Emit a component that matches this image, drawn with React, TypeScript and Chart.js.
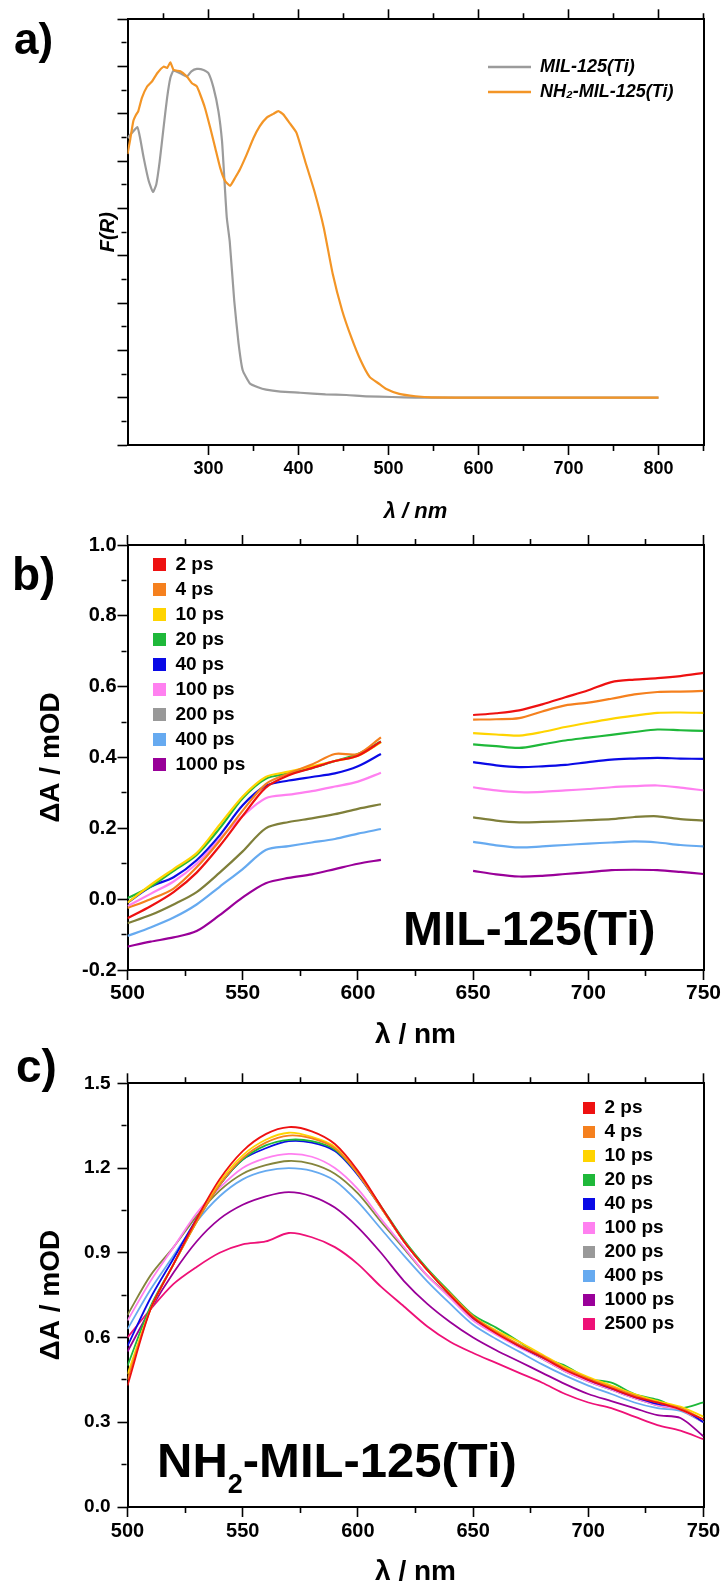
import React, { useEffect, useRef } from 'react';
import { Chart, registerables } from 'chart.js';

Chart.register(...registerables);

const FONT = '"Liberation Sans", Arial, Helvetica, sans-serif';
Chart.defaults.font.family = FONT;

// ---------------- Panel a : F(R) spectra ----------------
const aSeriesNames = ['MIL-125(Ti)', 'NH\u2082-MIL-125(Ti)'];
const aXTickLabels = [300, 400, 500, 600, 700, 800];
const aGrayX = [210, 215, 221, 224, 228, 233.6, 238.4, 242, 245.8, 250, 254, 257.6, 261, 268.5, 276, 281, 287, 294.5, 300, 305.6, 311, 315, 317.3, 320.3, 323.6, 328.6, 333.4, 338, 346, 355, 364, 380, 402, 430, 453, 475, 504, 530, 560, 600, 700, 800];
const aGrayY = [5.49, 5.6, 5.72, 5.49, 5.07, 4.58, 4.35, 4.51, 5.0, 5.7, 6.34, 6.76, 6.91, 6.86, 6.79, 6.9, 6.95, 6.93, 6.86, 6.55, 6.06, 5.43, 4.73, 3.81, 3.3, 2.05, 1.15, 0.58, 0.3, 0.22, 0.17, 0.13, 0.105, 0.07, 0.057, 0.03, 0.015, 0.0, 0.0, 0.0, 0.0, 0.0];
const aOrangeX = [210, 213, 216.5, 219.5, 222, 226, 231.8, 237.4, 243, 250.2, 254, 257.6, 261.3, 268.7, 276, 281.6, 287, 290.8, 296, 302, 307.5, 313, 318.5, 324, 329.6, 335, 342.6, 350, 357, 364.7, 372, 377.6, 383, 390, 397.8, 407.4, 417.6, 428, 438, 448.4, 458.6, 469, 479, 489, 497, 512, 530, 548, 600, 700, 800];
const aOrangeY = [5.15, 5.46, 5.85, 5.98, 6.06, 6.34, 6.58, 6.69, 6.86, 7.0, 6.97, 7.09, 6.93, 6.9, 6.79, 6.65, 6.58, 6.41, 6.13, 5.7, 5.28, 4.86, 4.58, 4.48, 4.65, 4.83, 5.15, 5.49, 5.74, 5.92, 6.0, 6.06, 5.99, 5.81, 5.6, 5.0, 4.37, 3.6, 2.62, 1.85, 1.28, 0.79, 0.44, 0.3, 0.19, 0.08, 0.03, 0.005, 0.0, 0.0, 0.0];

// ---------------- Panel b : MIL-125(Ti) transient spectra ----------------
const bLabels = ['2 ps', '4 ps', '10 ps', '20 ps', '40 ps', '100 ps', '200 ps', '400 ps', '1000 ps'];
const bXTickLabels = [500, 550, 600, 650, 700, 750];
const bYTickLabels = [-0.2, 0.0, 0.2, 0.4, 0.6, 0.8, 1.0];
const bX = [500, 510, 520, 530, 540, 550, 560, 570, 580, 590, 600, 610, 630, 650, 660, 670, 680, 690, 700, 710, 720, 730, 740, 750];
const b2ps = [-0.054, -0.02, 0.02, 0.075, 0.15, 0.235, 0.315, 0.35, 0.37, 0.39, 0.405, 0.445, null, 0.52, 0.525, 0.533, 0.55, 0.57, 0.59, 0.613, 0.62, 0.624, 0.63, 0.639];
const b4ps = [-0.025, 0.0, 0.03, 0.09, 0.165, 0.25, 0.325, 0.355, 0.38, 0.41, 0.41, 0.457, null, 0.507, 0.508, 0.511, 0.53, 0.547, 0.555, 0.566, 0.578, 0.585, 0.586, 0.588];
const b10ps = [-0.01, 0.04, 0.085, 0.13, 0.21, 0.29, 0.345, 0.36, 0.375, 0.39, 0.405, 0.443, null, 0.469, 0.465, 0.462, 0.472, 0.486, 0.498, 0.509, 0.518, 0.526, 0.527, 0.526];
const b20ps = [0.003, 0.035, 0.08, 0.125, 0.2, 0.285, 0.34, 0.355, 0.37, 0.39, 0.41, 0.445, null, 0.437, 0.432, 0.427, 0.437, 0.448, 0.456, 0.464, 0.472, 0.479, 0.477, 0.475];
const b40ps = [-0.01, 0.035, 0.062, 0.11, 0.18, 0.265, 0.32, 0.335, 0.345, 0.355, 0.375, 0.41, null, 0.387, 0.378, 0.373, 0.375, 0.379, 0.387, 0.394, 0.397, 0.399, 0.397, 0.396];
const b100ps = [-0.02, 0.015, 0.05, 0.1, 0.17, 0.235, 0.285, 0.295, 0.305, 0.318, 0.332, 0.357, null, 0.316, 0.307, 0.302, 0.303, 0.307, 0.311, 0.316, 0.319, 0.321, 0.315, 0.307];
const b200ps = [-0.068, -0.045, -0.015, 0.02, 0.075, 0.135, 0.2, 0.218, 0.228, 0.24, 0.255, 0.268, null, 0.231, 0.222, 0.217, 0.218, 0.22, 0.223, 0.226, 0.232, 0.234, 0.226, 0.222];
const b400ps = [-0.104, -0.08, -0.052, -0.015, 0.035, 0.085, 0.139, 0.15, 0.16, 0.17, 0.185, 0.198, null, 0.162, 0.152, 0.146, 0.149, 0.153, 0.157, 0.16, 0.163, 0.16, 0.153, 0.149];
const b1000ps = [-0.134, -0.12, -0.108, -0.09, -0.045, 0.005, 0.045, 0.06, 0.07, 0.085, 0.1, 0.111, null, 0.08, 0.07, 0.064, 0.066, 0.071, 0.076, 0.082, 0.083, 0.082, 0.077, 0.071];
const bSeries = [b2ps, b4ps, b10ps, b20ps, b40ps, b100ps, b200ps, b400ps, b1000ps];
const bLineColors = ['#ee1111', '#f5801e', '#ffd400', '#1fb83a', '#0a0ae6', '#ff80f0', '#7f7f3a', '#66aaf0', '#990099'];
const bLegendColors = ['#ee1111', '#f5801e', '#ffd400', '#1fb83a', '#0a0ae6', '#ff80f0', '#999999', '#66aaf0', '#990099'];

// ---------------- Panel c : NH2-MIL-125(Ti) transient spectra ----------------
const cLabels = ['2 ps', '4 ps', '10 ps', '20 ps', '40 ps', '100 ps', '200 ps', '400 ps', '1000 ps', '2500 ps'];
const cXTickLabels = [500, 550, 600, 650, 700, 750];
const cYTickLabels = [0.0, 0.3, 0.6, 0.9, 1.2, 1.5];
const cX = [500, 510, 520, 530, 540, 550, 560, 570, 580, 590, 600, 610, 620, 630, 640, 650, 660, 670, 680, 690, 700, 710, 720, 730, 740, 750];
const c2ps = [0.43, 0.70, 0.86, 1.02, 1.16, 1.26, 1.32, 1.345, 1.33, 1.285, 1.19, 1.065, 0.94, 0.84, 0.75, 0.67, 0.615, 0.57, 0.53, 0.485, 0.45, 0.42, 0.39, 0.37, 0.345, 0.31];
const c4ps = [0.45, 0.70, 0.86, 1.01, 1.14, 1.235, 1.29, 1.315, 1.305, 1.27, 1.18, 1.06, 0.94, 0.84, 0.755, 0.675, 0.62, 0.575, 0.535, 0.49, 0.455, 0.425, 0.395, 0.37, 0.35, 0.31];
const c10ps = [0.47, 0.70, 0.86, 1.01, 1.15, 1.245, 1.30, 1.325, 1.31, 1.275, 1.18, 1.06, 0.94, 0.84, 0.755, 0.675, 0.625, 0.585, 0.54, 0.495, 0.46, 0.43, 0.40, 0.375, 0.355, 0.32];
const c20ps = [0.50, 0.71, 0.86, 1.01, 1.14, 1.23, 1.28, 1.30, 1.295, 1.265, 1.18, 1.065, 0.945, 0.845, 0.76, 0.68, 0.635, 0.585, 0.53, 0.50, 0.455, 0.44, 0.40, 0.38, 0.35, 0.37];
const c40ps = [0.57, 0.74, 0.88, 1.02, 1.14, 1.23, 1.27, 1.295, 1.29, 1.26, 1.175, 1.06, 0.94, 0.84, 0.755, 0.67, 0.62, 0.57, 0.53, 0.49, 0.45, 0.42, 0.39, 0.365, 0.35, 0.30];
const c100ps = [0.66, 0.80, 0.92, 1.04, 1.13, 1.20, 1.235, 1.25, 1.24, 1.20, 1.125, 1.02, 0.92, 0.82, 0.74, 0.66, 0.61, 0.565, 0.525, 0.48, 0.445, 0.415, 0.385, 0.36, 0.345, 0.30];
const c200ps = [0.68, 0.82, 0.92, 1.03, 1.12, 1.18, 1.21, 1.225, 1.215, 1.18, 1.11, 1.01, 0.915, 0.82, 0.745, 0.665, 0.615, 0.57, 0.525, 0.48, 0.445, 0.415, 0.385, 0.36, 0.345, 0.30];
const c400ps = [0.63, 0.77, 0.89, 1.01, 1.10, 1.16, 1.19, 1.20, 1.19, 1.155, 1.08, 0.985, 0.89, 0.80, 0.72, 0.645, 0.595, 0.55, 0.505, 0.465, 0.43, 0.40, 0.37, 0.35, 0.34, 0.30];
const c1000ps = [0.55, 0.70, 0.83, 0.94, 1.02, 1.07, 1.10, 1.115, 1.10, 1.06, 0.99, 0.90, 0.80, 0.72, 0.655, 0.60, 0.555, 0.515, 0.475, 0.435, 0.40, 0.375, 0.35, 0.325, 0.315, 0.25];
const c2500ps = [0.60, 0.70, 0.79, 0.85, 0.90, 0.93, 0.94, 0.97, 0.955, 0.92, 0.86, 0.78, 0.71, 0.64, 0.585, 0.545, 0.51, 0.475, 0.44, 0.40, 0.37, 0.35, 0.32, 0.29, 0.27, 0.24];
const cSeries = [c2ps, c4ps, c10ps, c20ps, c40ps, c100ps, c200ps, c400ps, c1000ps, c2500ps];
const cLineColors = ['#ee1111', '#f5801e', '#ffd400', '#1fb83a', '#0a0ae6', '#ff80f0', '#85853c', '#66aaf0', '#990099', '#ee1177'];
const cLegendColors = ['#ee1111', '#f5801e', '#ffd400', '#1fb83a', '#0a0ae6', '#ff80f0', '#999999', '#66aaf0', '#990099', '#ee1177'];

// ---------------- helpers ----------------
const pts = (xs: number[], ys: (number | null)[]) => xs.map((x, i) => ({ x, y: ys[i] }));
const isMult = (v: number, s: number) => {
  const r = v / s;
  return Math.abs(r - Math.round(r)) < 1e-6;
};
const inList = (v: number, list: number[]) => list.some((t) => Math.abs(t - v) < 1e-6);
const fmt1 = (v: number) => (Math.abs(v) < 1e-9 ? 0 : v).toFixed(1);
const border = { display: true, color: '#000', width: 2 };

function gridFor(major: number, minor: number, outerFirst: boolean) {
  return {
    drawOnChartArea: false,
    drawTicks: true,
    tickLength: 10,
    tickWidth: 1.6,
    lineWidth: 1,
    tickColor: (c: any) => (c.tick && isMult(c.tick.value, minor) ? '#000' : 'rgba(0,0,0,0)'),
    tickBorderDash: (c: any) => {
      if (!c.tick || isMult(c.tick.value, major)) return [];
      return outerFirst ? [0, 4, 5, 60] : [5, 60];
    },
  };
}

const legendAt = (left: number, top: number) => ({
  id: 'legendAt',
  afterLayout(chart: any) {
    if (chart.legend) {
      chart.legend.left = left;
      chart.legend.top = top;
    }
  },
});

type TextPart = { text: string; font: string; x?: number; y: number; align?: CanvasTextAlign };
const textPlugin = (parts: TextPart[]) => ({
  id: 'texts',
  afterDraw(chart: any) {
    const ctx = chart.ctx;
    ctx.save();
    ctx.fillStyle = '#000';
    ctx.textBaseline = 'alphabetic';
    let cursor = 0;
    parts.forEach((p) => {
      ctx.font = p.font;
      ctx.textAlign = p.align || 'left';
      const x = p.x !== undefined ? p.x : cursor;
      ctx.fillText(p.text, x, p.y);
      cursor = x + ctx.measureText(p.text).width;
    });
    ctx.restore();
  },
});

function makeLegend(colors: string[], size: number, italic: boolean, boxW: number, boxH: number, pad: number) {
  return {
    display: true,
    position: 'chartArea',
    align: 'start',
    labels: {
      color: '#000',
      font: { family: FONT, size, weight: 'bold', style: italic ? 'italic' : 'normal' },
      boxWidth: boxW,
      boxHeight: boxH,
      padding: pad,
      generateLabels: (chart: any) =>
        chart.data.datasets.map((ds: any, i: number) => ({
          text: ds.label,
          fillStyle: colors[i],
          strokeStyle: colors[i],
          lineWidth: 0,
          hidden: false,
          datasetIndex: i,
          fontColor: '#000',
        })),
    },
  };
}

type ScaleCfg = {
  xMin: number; xMax: number; xMinor: number; xMajor: number; xTicks: number[]; xFont: number; xPad: number;
  yMin: number; yMax: number; yMinor: number; yMajor: number; yTicks: number[] | null; yFont: number; yPad: number;
  xTitle: string; xTitleSize: number; xTitleItalic: boolean; xTitlePad: number;
  yTitle: string; yTitleSize: number; yTitleItalic: boolean; yTitlePad: number;
  leftW: number; topH: number; bottomH: number;
};

function makeScales(o: ScaleCfg) {
  return {
    x: {
      type: 'linear', position: 'bottom', min: o.xMin, max: o.xMax,
      afterFit: (s: any) => { s.height = o.bottomH; },
      border,
      grid: gridFor(o.xMajor, o.xMinor, false),
      ticks: {
        stepSize: o.xMinor, autoSkip: false, maxRotation: 0, minRotation: 0, padding: o.xPad, color: '#000',
        font: { family: FONT, size: o.xFont, weight: 'bold' },
        callback: (v: any) => (inList(Number(v), o.xTicks) ? String(Math.round(Number(v))) : ''),
      },
      title: {
        display: true, text: o.xTitle, color: '#000',
        font: { family: FONT, size: o.xTitleSize, weight: 'bold', style: o.xTitleItalic ? 'italic' : 'normal', lineHeight: 1 },
        padding: { top: 0, bottom: o.xTitlePad },
      },
    },
    xTop: {
      type: 'linear', position: 'top', min: o.xMin, max: o.xMax, display: true,
      afterFit: (s: any) => { s.height = o.topH; },
      border,
      grid: gridFor(o.xMajor, o.xMinor, true),
      ticks: { display: false, stepSize: o.xMinor, autoSkip: false },
    },
    y: {
      type: 'linear', position: 'left', min: o.yMin, max: o.yMax,
      afterFit: (s: any) => { s.width = o.leftW; },
      border,
      grid: gridFor(o.yMajor, o.yMinor, true),
      ticks: {
        display: o.yTicks !== null, stepSize: o.yMinor, autoSkip: false, padding: o.yPad, color: '#000',
        font: { family: FONT, size: o.yFont, weight: 'bold' },
        callback: (v: any) => (o.yTicks && inList(Number(v), o.yTicks) ? fmt1(Number(v)) : ''),
      },
      title: {
        display: true, text: o.yTitle, color: '#000',
        font: { family: FONT, size: o.yTitleSize, weight: 'bold', style: o.yTitleItalic ? 'italic' : 'normal', lineHeight: 1 },
        padding: { top: o.yTitlePad, bottom: 0 },
      },
    },
    yRight: {
      type: 'linear', position: 'right', min: o.yMin, max: o.yMax, display: true,
      afterFit: (s: any) => { s.width = 0; },
      border,
      grid: { drawOnChartArea: false, drawTicks: false },
      ticks: { display: false },
    },
  };
}

const baseOptions = {
  responsive: false,
  animation: false,
  devicePixelRatio: 1,
  events: [],
};

function configA(): any {
  return {
    type: 'line',
    data: {
      datasets: [
        { label: aSeriesNames[0], data: pts(aGrayX, aGrayY), borderColor: '#9b9b9b', backgroundColor: '#9b9b9b', borderWidth: 2.2, pointRadius: 0, tension: 0.15, order: 2 },
        { label: aSeriesNames[1], data: pts(aOrangeX, aOrangeY), borderColor: '#f39526', backgroundColor: '#f39526', borderWidth: 2.2, pointRadius: 0, tension: 0.15, order: 1 },
      ],
    },
    options: {
      ...baseOptions,
      layout: { padding: { left: 0, right: 24.5, top: 0, bottom: 0 } },
      plugins: {
        legend: makeLegend(['#9b9b9b', '#f39526'], 18, true, 43, 2.5, 7),
        tooltip: { enabled: false },
      },
      scales: makeScales({
        xMin: 210, xMax: 850, xMinor: 50, xMajor: 100, xTicks: aXTickLabels, xFont: 18, xPad: 3,
        yMin: -1, yMax: 8, yMinor: 0.5, yMajor: 1, yTicks: null, yFont: 18, yPad: 2,
        xTitle: '\u03BB / nm', xTitleSize: 22, xTitleItalic: true, xTitlePad: 7,
        yTitle: 'F(R)', yTitleSize: 20, yTitleItalic: true, yTitlePad: 98,
        leftW: 127.5, topH: 19.3, bottomH: 85,
      }),
    },
    plugins: [
      legendAt(481, 51),
      textPlugin([{ text: 'a)', font: `bold 44px ${FONT}`, x: 14, y: 54 }]),
    ],
  };
}

function configB(): any {
  return {
    type: 'line',
    data: {
      datasets: bSeries.map((s, i) => ({
        label: bLabels[i], data: pts(bX, s), borderColor: bLineColors[i], backgroundColor: bLineColors[i],
        borderWidth: 2.2, pointRadius: 0, tension: 0.3, spanGaps: false,
      })),
    },
    options: {
      ...baseOptions,
      layout: { padding: { left: 0, right: 24.5, top: 0, bottom: 0 } },
      plugins: {
        legend: makeLegend(bLegendColors, 19, false, 13, 13, 6),
        tooltip: { enabled: false },
      },
      scales: makeScales({
        xMin: 500, xMax: 750, xMinor: 25, xMajor: 50, xTicks: bXTickLabels, xFont: 21, xPad: 1,
        yMin: -0.2, yMax: 1.0, yMinor: 0.1, yMajor: 0.2, yTicks: bYTickLabels, yFont: 20, yPad: 1,
        xTitle: '\u03BB / nm', xTitleSize: 28, xTitleItalic: false, xTitlePad: 6,
        yTitle: '\u0394A / mOD', yTitleSize: 28, yTitleItalic: false, yTitlePad: 37,
        leftW: 127.5, topH: 20, bottomH: 85,
      }),
    },
    plugins: [
      legendAt(147, 24),
      textPlugin([
        { text: 'b)', font: `bold 46px ${FONT}`, x: 12, y: 65 },
        { text: 'MIL-125(Ti)', font: `bold 48px ${FONT}`, x: 403, y: 420 },
      ]),
    ],
  };
}

function configC(): any {
  return {
    type: 'line',
    data: {
      datasets: cSeries.map((s, i) => ({
        label: cLabels[i], data: pts(cX, s), borderColor: cLineColors[i], backgroundColor: cLineColors[i],
        borderWidth: 1.8, pointRadius: 0, tension: 0.3,
      })),
    },
    options: {
      ...baseOptions,
      layout: { padding: { left: 0, right: 24.5, top: 0, bottom: 0 } },
      plugins: {
        legend: makeLegend(cLegendColors, 19, false, 12, 12, 5),
        tooltip: { enabled: false },
      },
      scales: makeScales({
        xMin: 500, xMax: 750, xMinor: 25, xMajor: 50, xTicks: cXTickLabels, xFont: 20, xPad: 2,
        yMin: 0, yMax: 1.5, yMinor: 0.15, yMajor: 0.3, yTicks: cYTickLabels, yFont: 19, yPad: 7,
        xTitle: '\u03BB / nm', xTitleSize: 28, xTitleItalic: false, xTitlePad: 0,
        yTitle: '\u0394A / mOD', yTitleSize: 28, yTitleItalic: false, yTitlePad: 37,
        leftW: 127.5, topH: 45.3, bottomH: 79,
      }),
    },
    plugins: [
      legendAt(578, 55.5),
      textPlugin([
        { text: 'c)', font: `bold 46px ${FONT}`, x: 16, y: 44 },
        { text: 'NH', font: `bold 49px ${FONT}`, x: 157, y: 439 },
        { text: '2', font: `bold 27px ${FONT}`, y: 455 },
        { text: '-MIL-125(Ti)', font: `bold 49px ${FONT}`, y: 439 },
      ]),
    ],
  };
}

export default function App() {
  const refA = useRef<HTMLCanvasElement>(null);
  const refB = useRef<HTMLCanvasElement>(null);
  const refC = useRef<HTMLCanvasElement>(null);

  useEffect(() => {
    const charts = [
      new Chart(refA.current as HTMLCanvasElement, configA()),
      new Chart(refB.current as HTMLCanvasElement, configB()),
      new Chart(refC.current as HTMLCanvasElement, configC()),
    ];
    return () => charts.forEach((c) => c.destroy());
  }, []);

  const cv = (top: number, h: number): React.CSSProperties => ({ position: 'absolute', left: 0, top, width: 728, height: h });

  return (
    <div style={{ position: 'absolute', left: 0, top: 0, width: 728, height: 1586, background: '#fff', overflow: 'hidden' }}>
      <canvas ref={refA} width={728} height={530} style={cv(0, 530)} />
      <canvas ref={refB} width={728} height={530} style={cv(525, 530)} />
      <canvas ref={refC} width={728} height={548} style={cv(1038, 548)} />
    </div>
  );
}
